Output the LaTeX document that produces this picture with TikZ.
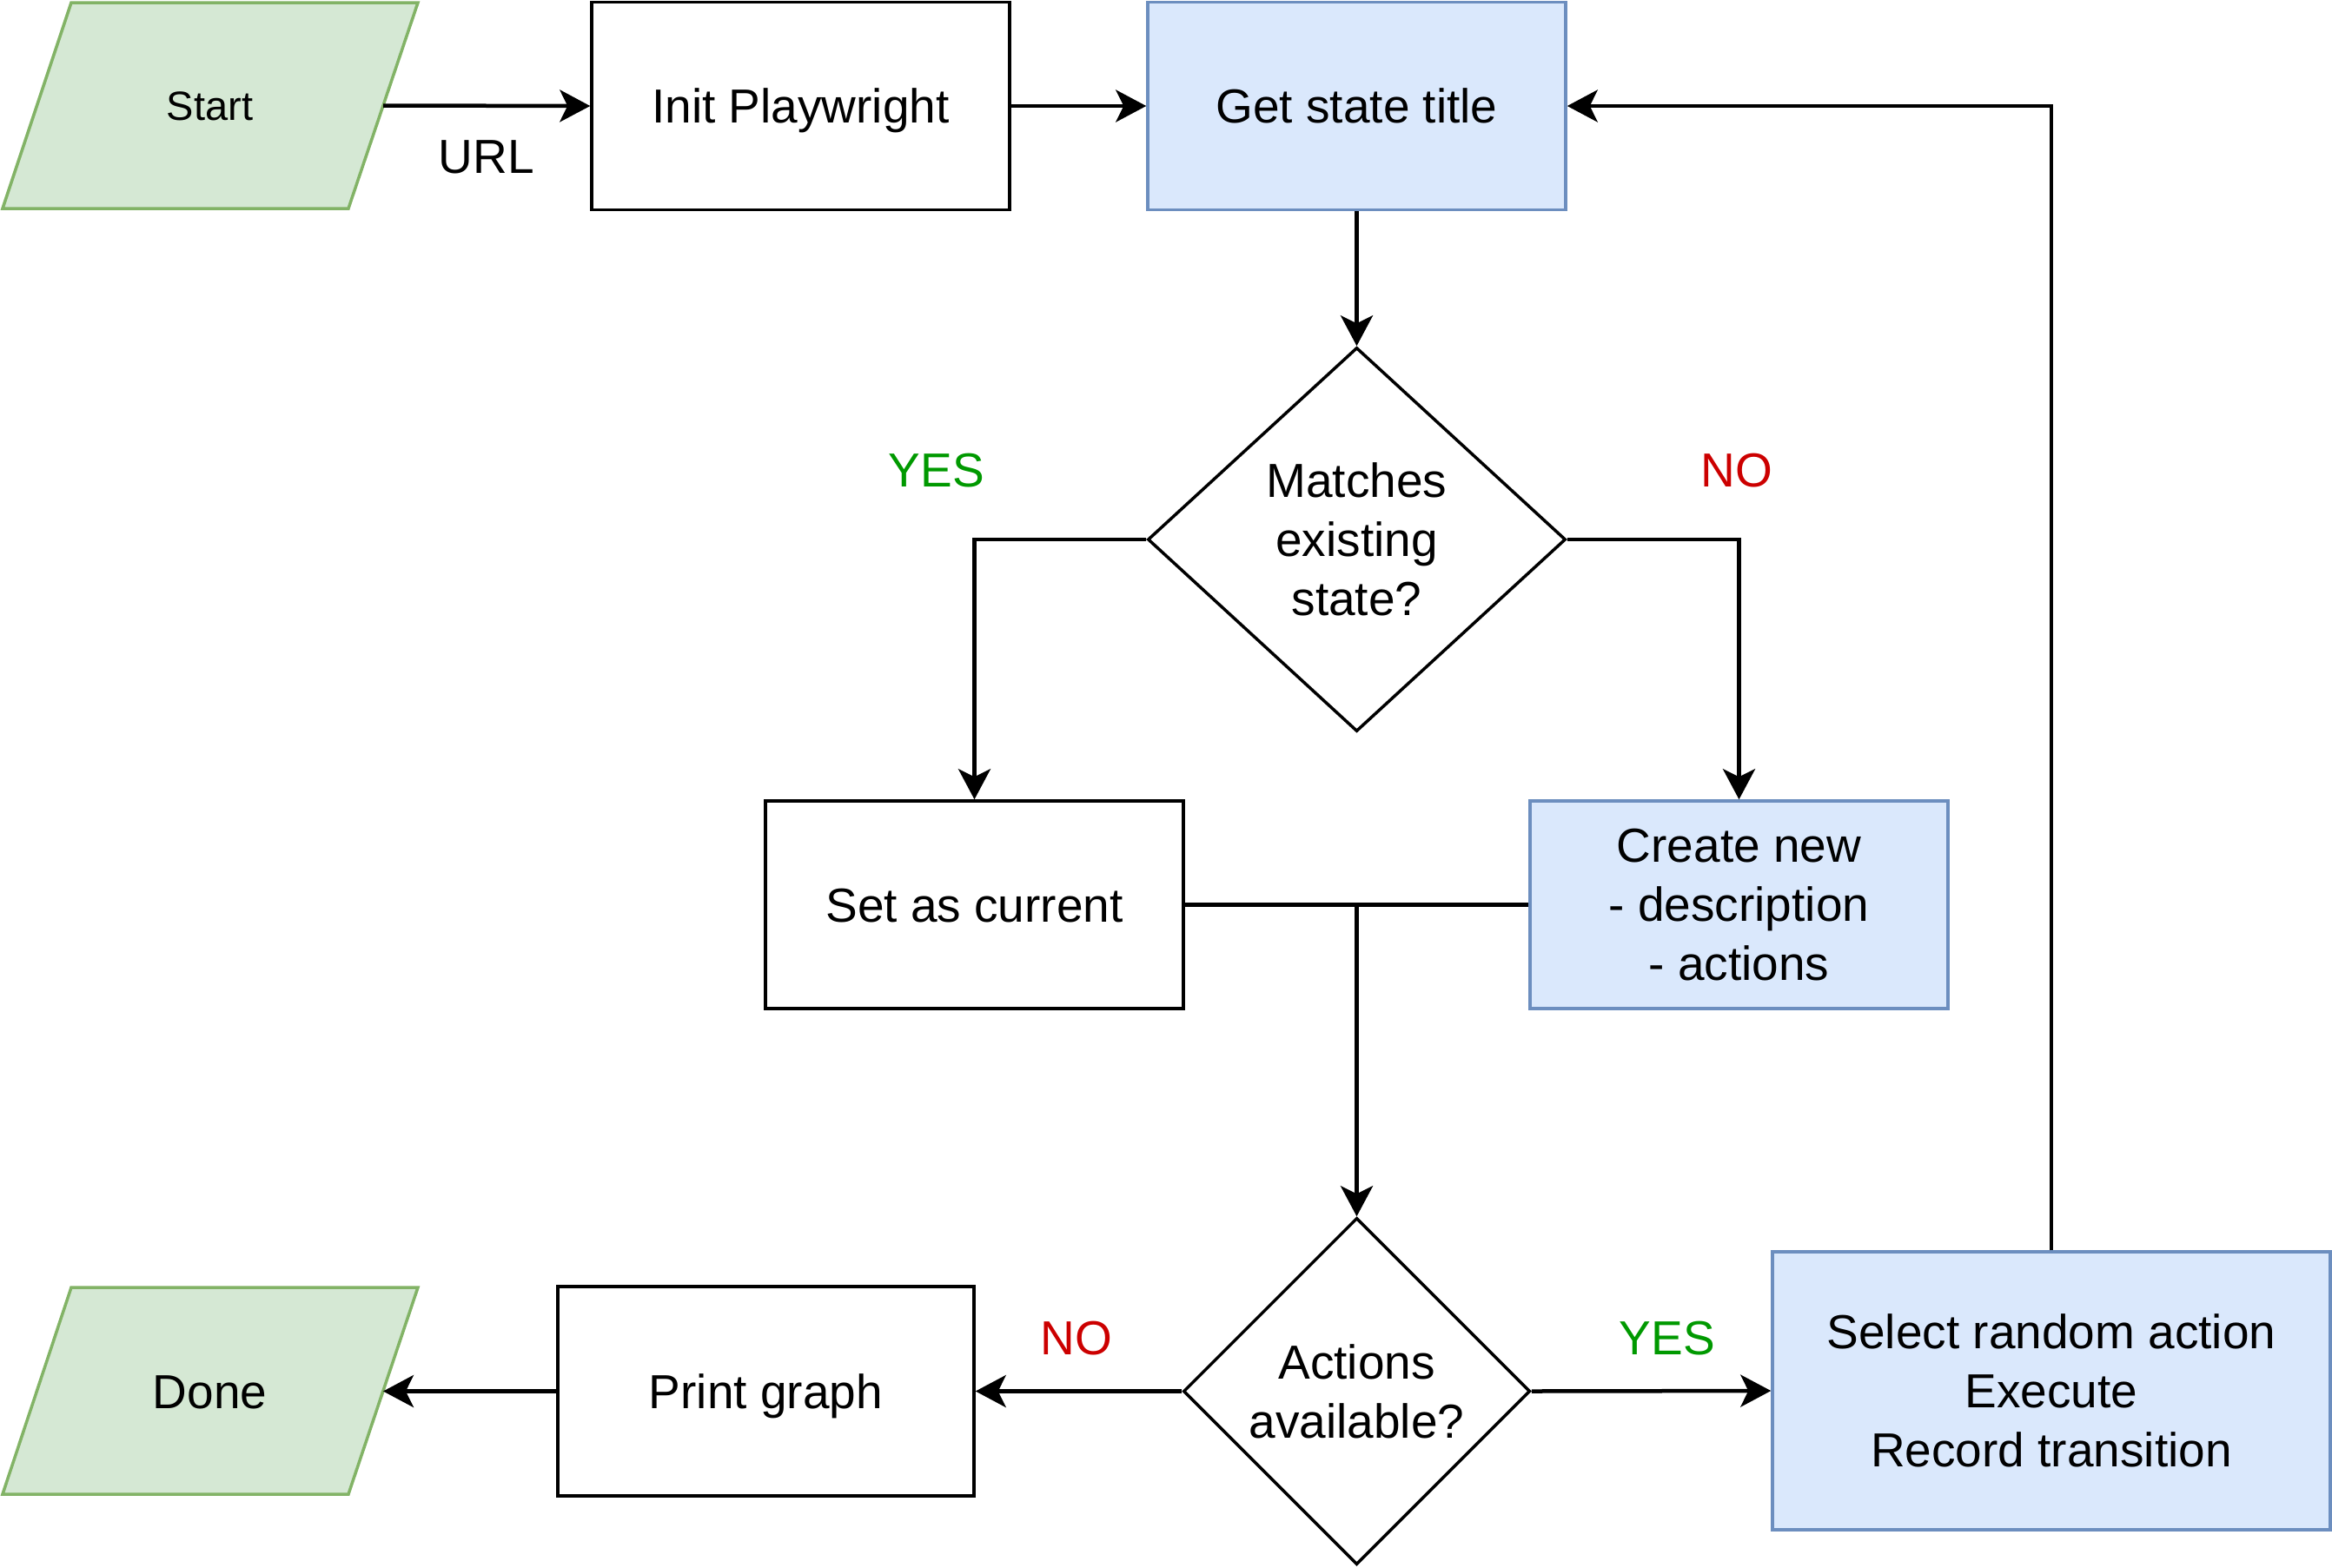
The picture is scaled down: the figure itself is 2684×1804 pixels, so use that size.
\documentclass[tikz,border=0pt]{standalone}
\usepackage{fontspec}
\setmainfont{Liberation Sans}
\usetikzlibrary{shapes.geometric,arrows.meta}
\definecolor{gfill}{HTML}{D5E8D4}
\definecolor{gline}{HTML}{82B366}
\definecolor{bfill}{HTML}{DAE8FC}
\definecolor{bline}{HTML}{6C8EBF}
\definecolor{yesc}{HTML}{009900}
\definecolor{noc}{HTML}{CC0000}
\begin{document}
\begin{tikzpicture}[x=1pt,y=-1pt,
  every node/.style={font=\fontsize{55}{68}\selectfont, align=center, inner sep=0pt, text=black},
  oneline/.style={text height=46pt, text depth=7pt},
  plainbox/.style={rectangle, draw=black, line width=3.5pt, minimum width=481pt, minimum height=239pt},
  bluebox/.style={rectangle, draw=bline, fill=bfill, line width=3.5pt, minimum width=481pt, minimum height=239pt},
  iotext/.style={rectangle, minimum width=481pt, minimum height=237pt},
  ioshape/.style={draw=gline, fill=gfill, line width=3.5pt, line join=miter},
  decision/.style={diamond, draw=black, line width=3.5pt},
  conn/.style={draw=black, line width=4.5pt},
  arr/.style={conn, -{Stealth[length=35pt, width=37pt, inset=9pt]}},
  yeslbl/.style={text=yesc},
  nolbl/.style={text=noc}]
\useasboundingbox (0,0) rectangle (2684,1804);

% Start (parallelogram)
\draw[ioshape] (82,3) -- (481,3) -- (401,240) -- (3,240) -- cycle;
\node[iotext, font=\fontsize{47}{56}\selectfont, text height=39pt, text depth=6pt] (start) at (241.5,121.5) {Start};
\coordinate (startedge) at (441,121.5);
% Done (parallelogram)
\draw[ioshape] (82,1482) -- (481,1482) -- (401,1720) -- (3,1720) -- cycle;
\node[iotext, oneline] (done) at (241.5,1601.5) {Done};
\coordinate (doneedge) at (441,1601.5);

\node[plainbox, oneline] (init) at (921.5,122) {Init Playwright};
\node[bluebox, oneline] (get) at (1561.5,122) {Get state title};
\node[decision, minimum width=481pt, minimum height=442pt,
      label={center:Matches\\existing\\state?}] (d1) at (1561.5,621) {};
\node[plainbox, oneline] (set) at (1121.5,1041.5) {Set as current};
\node[bluebox] (create) at (2001.5,1041.5) {Create new\\- description\\- actions};
\node[decision, minimum width=399pt, minimum height=399pt,
      label={center:Actions\\available?}] (d2) at (1561.5,1601.5) {};
\node[plainbox, oneline, minimum width=479pt, minimum height=241pt] (print) at (881.5,1601.5) {Print graph};
\node[bluebox, minimum width=642pt, minimum height=320pt] (sel) at (2361,1601) {Select random action\\Execute\\Record transition};

\coordinate (merge) at (1561.5,1041.5);

\draw[arr] (startedge) -- (init.west);
\node[oneline] (url) at (560,180) {URL};
\draw[arr] (init.east) -- (get.west);
\draw[arr] (get.south) -- (d1.north);
\draw[arr] (d1.west) -| (set.north);
\draw[arr] (d1.east) -| (create.north);
\node[yeslbl, oneline] (yes1) at (1078,541) {YES};
\node[nolbl, oneline] (no1) at (1999,541) {NO};
\draw[conn] (set.east) -- (create.west);
\draw[arr] (merge) -- (d2.north);
\draw[arr] (d2.west) -- (print.east);
\draw[arr] (print.west) -- (doneedge);
\draw[arr] (d2.east) -- (sel.west);
\node[nolbl, oneline] (no2) at (1239,1540) {NO};
\node[yeslbl, oneline] (yes2) at (1919,1540) {YES};
\draw[arr] (sel.north) |- (get.east);
\end{tikzpicture}
\end{document}
